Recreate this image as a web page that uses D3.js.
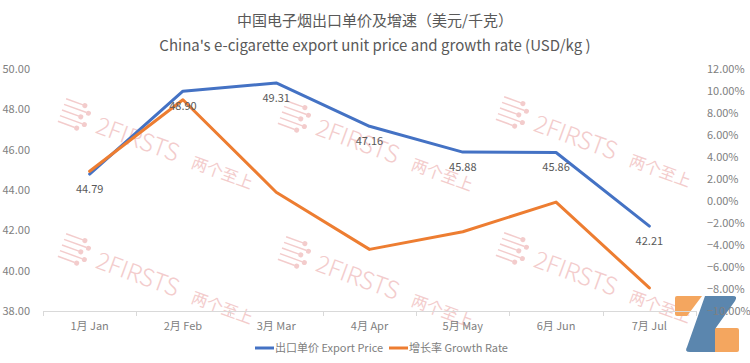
<!DOCTYPE html>
<head>
  <meta charset="utf-8">
  <script src="https://d3js.org/d3.v7.min.js"></script>
  <style>
    body { margin:0; background:#fff; }
    text { font-family: "Noto Sans CJK JP", "Noto Sans CJK SC", sans-serif; }
    .title { fill: #595959; }
    .tick-label { fill: #808080; font-size: 11px; }
    .data-label { fill: #595959; font-size: 11px; }
    .mark { fill: #f3cccc; }
  </style>
</head>
<body>
  <script>
    var months = ["1月 Jan", "2月 Feb", "3月 Mar", "4月 Apr", "5月 May", "6月 Jun", "7月 Jul"];
    var price = [44.79, 48.90, 49.31, 47.16, 45.88, 45.86, 42.21];
    var growth = [2.7, 9.2, 0.8, -4.4, -2.8, -0.1, -7.9];
    var leftTicks = [38, 40, 42, 44, 46, 48, 50];
    var rightTicks = [-10, -8, -6, -4, -2, 0, 2, 4, 6, 8, 10, 12];

    var width = 750, height = 363;
    var plot = {left: 43, right: 696, top: 69, bottom: 311};

    var svg = d3.select("body").append("svg")
        .attr("width", width)
        .attr("height", height);

    var x = d3.scaleBand()
        .domain(months)
        .range([plot.left, plot.right]);

    var y = d3.scaleLinear()
        .domain([38, 50])
        .range([plot.bottom, plot.top]);

    var y2 = d3.scaleLinear()
        .domain([-10, 12])
        .range([plot.bottom, plot.top]);

    function cx(i) { return x(months[i]) + x.bandwidth() / 2; }

    // watermark
    var marks = [[62, 110], [282, 112], [500, 108], [62, 245], [282, 248], [500, 244]];
    var wm = svg.append("g").attr("class", "watermark");
    marks.forEach(function(m) {
      var g = wm.append("g").attr("transform", "translate(" + m[0] + "," + m[1] + ") rotate(20)");
      for (var k = 0; k < 5; k++) {
        g.append("line")
          .attr("x1", 0).attr("y1", -12 + k * 6)
          .attr("x2", 18 + (k % 2) * 6).attr("y2", -12 + k * 6)
          .attr("stroke", "#f3cccc").attr("stroke-width", 1.5);
        g.append("circle")
          .attr("cx", 20 + (k % 2) * 6).attr("cy", -12 + k * 6).attr("r", 2.5)
          .attr("class", "mark");
      }
      g.append("text").attr("class", "mark")
        .attr("x", 38).attr("y", 10)
        .style("font-size", "24px").style("font-weight", "300")
        .text("2FIRSTS");
      g.append("text").attr("class", "mark")
        .attr("x", 140).attr("y", 10)
        .style("font-size", "16px")
        .text("两个至上");
    });

    // logo
    var logo = svg.append("g").attr("transform", "translate(675,296)");
    logo.append("path")
      .attr("d", "M2,0 H27 L12,20 H2 Q0,20 0,18 V2 Q0,0 2,0 Z")
      .attr("fill", "#f4a65f");
    logo.append("path")
      .attr("d", "M38,32 H62 Q64,32 64,34 V54 Q64,56 62,56 H38 Z")
      .attr("fill", "#f4a65f");
    logo.append("path")
      .attr("d", "M30,0 H58 Q63,0 60,5 L40,33 V56 H15 Q9,56 12,51 Z")
      .attr("fill", "#5b86ae");

    // titles
    svg.append("text").attr("class", "title")
      .attr("x", 375).attr("y", 26)
      .attr("text-anchor", "middle")
      .style("font-size", "15px")
      .text("中国电子烟出口单价及增速（美元/千克）");

    svg.append("text").attr("class", "title")
      .attr("x", 375).attr("y", 51)
      .attr("text-anchor", "middle")
      .style("font-size", "15px")
      .text("China's e-cigarette export unit price and growth rate (USD/kg )");

    // category axis
    var axis = svg.append("g");
    axis.append("line")
      .attr("x1", plot.left).attr("x2", plot.right)
      .attr("y1", plot.bottom + 0.5).attr("y2", plot.bottom + 0.5)
      .attr("stroke", "#d9d9d9");
    axis.selectAll(".tk")
      .data(months.concat(["end"]))
      .enter().append("line")
      .attr("x1", function(d, i) { return Math.round(plot.left + i * x.bandwidth()) + 0.5; })
      .attr("x2", function(d, i) { return Math.round(plot.left + i * x.bandwidth()) + 0.5; })
      .attr("y1", plot.bottom).attr("y2", plot.bottom + 5)
      .attr("stroke", "#d9d9d9");
    axis.selectAll(".xl")
      .data(months)
      .enter().append("text")
      .attr("class", "tick-label")
      .attr("x", function(d, i) { return cx(i); })
      .attr("y", 330)
      .attr("text-anchor", "middle")
      .text(function(d) { return d; });

    // left axis labels
    svg.selectAll(".yl")
      .data(leftTicks)
      .enter().append("text")
      .attr("class", "tick-label")
      .attr("x", 30)
      .attr("y", function(d) { return y(d) + 4; })
      .attr("text-anchor", "end")
      .text(function(d) { return d3.format(".2f")(d); });

    // right axis labels
    svg.selectAll(".y2l")
      .data(rightTicks)
      .enter().append("text")
      .attr("class", "tick-label")
      .attr("x", 707)
      .attr("y", function(d) { return y2(d) + 4; })
      .text(function(d) { return d3.format(".2f")(d) + "%"; });

    // lines
    var priceLine = d3.line()
      .x(function(d, i) { return cx(i); })
      .y(function(d) { return y(d); });

    var growthLine = d3.line()
      .x(function(d, i) { return cx(i); })
      .y(function(d) { return y2(d); });

    svg.append("path")
      .datum(price)
      .attr("fill", "none")
      .attr("stroke", "#4472c4")
      .attr("stroke-width", 3)
      .attr("stroke-linejoin", "round")
      .attr("stroke-linecap", "round")
      .attr("d", priceLine);

    svg.append("path")
      .datum(growth)
      .attr("fill", "none")
      .attr("stroke", "#ed7d31")
      .attr("stroke-width", 3)
      .attr("stroke-linejoin", "round")
      .attr("stroke-linecap", "round")
      .attr("d", growthLine);

    svg.selectAll(".dl")
      .data(price)
      .enter().append("text")
      .attr("class", "data-label")
      .attr("x", function(d, i) { return cx(i); })
      .attr("y", function(d) { return y(d) + 19; })
      .attr("text-anchor", "middle")
      .text(function(d) { return d3.format(".2f")(d); });

    // legend
    var legend = svg.append("g");
    legend.append("line")
      .attr("x1", 255).attr("x2", 274).attr("y1", 348).attr("y2", 348)
      .attr("stroke", "#4472c4").attr("stroke-width", 3);
    legend.append("text").attr("class", "tick-label")
      .attr("x", 275).attr("y", 352)
      .text("出口单价 Export Price");
    legend.append("line")
      .attr("x1", 389).attr("x2", 408).attr("y1", 348).attr("y2", 348)
      .attr("stroke", "#ed7d31").attr("stroke-width", 3);
    legend.append("text").attr("class", "tick-label")
      .attr("x", 409).attr("y", 352)
      .text("增长率 Growth Rate");
  </script>
</body>
